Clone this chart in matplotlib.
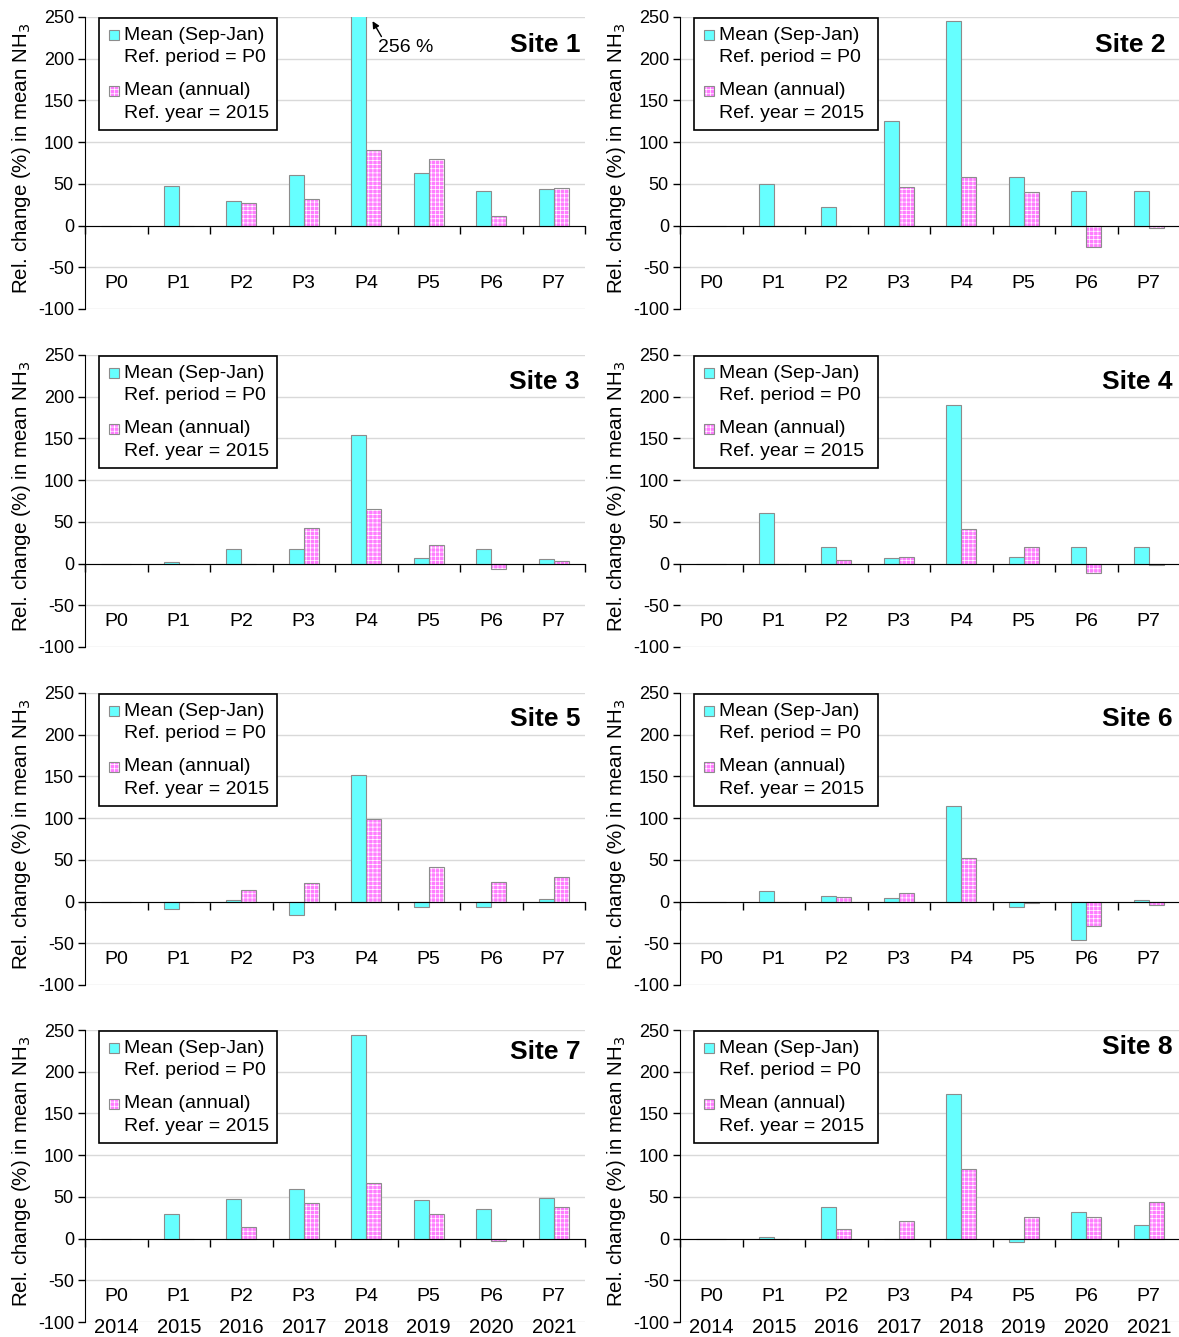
import numpy as np
import matplotlib.pyplot as plt
from matplotlib.patches import Rectangle

plt.rcParams['font.family'] = ['Liberation Sans', 'DejaVu Sans']
plt.rcParams['axes.unicode_minus'] = False
plt.rcParams['hatch.color'] = 'white'
plt.rcParams['hatch.linewidth'] = 0.5

periods = ['P0', 'P1', 'P2', 'P3', 'P4', 'P5', 'P6', 'P7']
years = ['2014', '2015', '2016', '2017', '2018', '2019', '2020', '2021']

# relative change (%) of the Sep-Jan mean, reference period P0
site1_sepjan = [0, 48, 29, 60, 256, 63, 42, 44]
site2_sepjan = [0, 50, 22, 125, 245, 58, 42, 42]
site3_sepjan = [0, 2, 17, 17, 154, 6.5, 18, 5]
site4_sepjan = [0, 60, 20, 7, 190, 8, 20, 20]
site5_sepjan = [0, -9, 2, -16, 152, -6, -7, 3]
site6_sepjan = [0, 13, 7, 4, 114, -6, -46, 2]
site7_sepjan = [0, 30, 47, 59, 244, 46, 35, 49]
site8_sepjan = [0, 1.5, 38, 0, 173, -4, 32, 16]

# relative change (%) of the annual mean, reference year 2015
site1_annual = [0, 0, 27, 32, 90, 80, 12, 45]
site2_annual = [0, 0, 0, 46, 58, 40, -26, -3]
site3_annual = [0, 0, 0, 43, 65, 22, -7, 3]
site4_annual = [0, 0, 4, 8, 41, 20, -11, -2]
site5_annual = [0, 0, 14, 22, 99, 41, 24, 30]
site6_annual = [0, 0, 6, 10, 52, -1.5, -29, -4]
site7_annual = [0, 0, 14, 43, 67, 30, -3, 38]
site8_annual = [0, 0, 11, 21, 83, 26, 26, 44]

site_names = ['Site 1', 'Site 2', 'Site 3', 'Site 4',
              'Site 5', 'Site 6', 'Site 7', 'Site 8']
sepjan = [site1_sepjan, site2_sepjan, site3_sepjan, site4_sepjan,
          site5_sepjan, site6_sepjan, site7_sepjan, site8_sepjan]
annual = [site1_annual, site2_annual, site3_annual, site4_annual,
          site5_annual, site6_annual, site7_annual, site8_annual]

cyan = '#66FFFF'
pink = '#FF7DFF'
edge = '#8C8C8C'
hatch = '++++'

# axes layout (figure fractions)
col_left = [0.0721, 0.5768]
row_bottom = [0.7689, 0.5161, 0.2633, 0.0112]
ax_w, ax_h = 0.4241, 0.2184
label_x = [0.99, 0.97, 0.99, 0.985, 0.99, 0.985, 0.99, 0.985]
label_y = [0.905, 0.905, 0.909, 0.909, 0.912, 0.912, 0.925, 0.942]
key_w = [0.356, 0.369]


def hatched_rect(ax, xy, w, h, zorder):
    ax.add_patch(Rectangle(xy, w, h, transform=ax.transAxes, facecolor=pink,
                           hatch=hatch, zorder=zorder, clip_on=False))
    ax.add_patch(Rectangle(xy, w, h, transform=ax.transAxes, fill=False,
                           edgecolor=edge, lw=0.8, zorder=zorder, clip_on=False))


def draw_key(ax, box_w):
    px_w = ax_w * 1179
    px_h = ax_h * 1337
    sq_w, sq_h = 10 / px_w, 10 / px_h
    ax.add_patch(Rectangle((0.027, 0.613), box_w, 0.384, transform=ax.transAxes,
                           facecolor='white', edgecolor='black', lw=1.2,
                           zorder=5, clip_on=False))
    entries = [(0.938, 'Mean (Sep-Jan)', 'Ref. period = P0'),
               (0.747, 'Mean (annual)', 'Ref. year = 2015')]
    for i, (y0, l1, l2) in enumerate(entries):
        xy = (0.058 - sq_w / 2, y0 - sq_h / 2)
        if i == 0:
            ax.add_patch(Rectangle(xy, sq_w, sq_h, transform=ax.transAxes,
                                   facecolor=cyan, edgecolor=edge, lw=0.8,
                                   zorder=6, clip_on=False))
        else:
            hatched_rect(ax, xy, sq_w, sq_h, 6)
        ax.text(0.078, y0, l1, transform=ax.transAxes, va='center',
                fontsize=14, zorder=7)
        ax.text(0.078, y0 - 0.077, l2, transform=ax.transAxes, va='center',
                fontsize=14, zorder=7)


fig = plt.figure(figsize=(11.79, 13.37), dpi=100)
x = np.arange(len(periods))
bw = 0.24

for i in range(8):
    row, col = divmod(i, 2)
    ax = fig.add_axes([col_left[col], row_bottom[row], ax_w, ax_h])

    ax.bar(x - bw / 2, sepjan[i], bw, color=cyan, edgecolor=edge, lw=0.8, zorder=3)
    ax.bar(x + bw / 2, annual[i], bw, color=pink, hatch=hatch, zorder=3)
    ax.bar(x + bw / 2, annual[i], bw, fill=False, edgecolor=edge, lw=0.8, zorder=3)

    ax.set_xlim(-0.5, 7.5)
    ax.set_ylim(-100, 250)
    ax.set_yticks(np.arange(-100, 251, 50))
    ax.yaxis.grid(True, color='#D9D9D9', lw=1)
    ax.set_axisbelow(True)

    ax.spines['top'].set_visible(False)
    ax.spines['right'].set_visible(False)
    ax.spines['bottom'].set_position(('data', 0))
    ax.spines['bottom'].set_zorder(4)
    if i == 3:
        ax.spines['left'].set_visible(False)

    ax.set_xticks(np.arange(-0.5, 8, 1))
    ax.set_xticklabels([])
    ax.tick_params(axis='x', direction='out', length=6, width=1)
    ax.tick_params(axis='y', direction='out', length=5, width=1, labelsize=13, pad=3)

    for k, p in enumerate(periods):
        ax.text(k, -70, p, ha='center', va='center', fontsize=14)
    if row == 3:
        for k, yr in enumerate(years):
            ax.text(k, -106, yr, ha='center', va='center', fontsize=14.5,
                    clip_on=False)

    ax.set_ylabel('Rel. change (%) in mean NH$_3$', fontsize=14.8)
    ax.yaxis.set_label_coords(-0.105, 0.515)

    ax.text(label_x[i], label_y[i], site_names[i], transform=ax.transAxes,
            ha='right', va='center', fontsize=19, fontweight='bold')

    draw_key(ax, key_w[col])

    if i == 0:
        ax.annotate('256 %', xy=(4.1, 245), xytext=(4.18, 213), va='center',
                    ha='left', fontsize=14,
                    arrowprops=dict(arrowstyle='-|>', color='black', lw=1,
                                    shrinkA=0, shrinkB=0, mutation_scale=10,
                                    relpos=(0.1, 1.0)))

fig.savefig('out.png', dpi=100)
